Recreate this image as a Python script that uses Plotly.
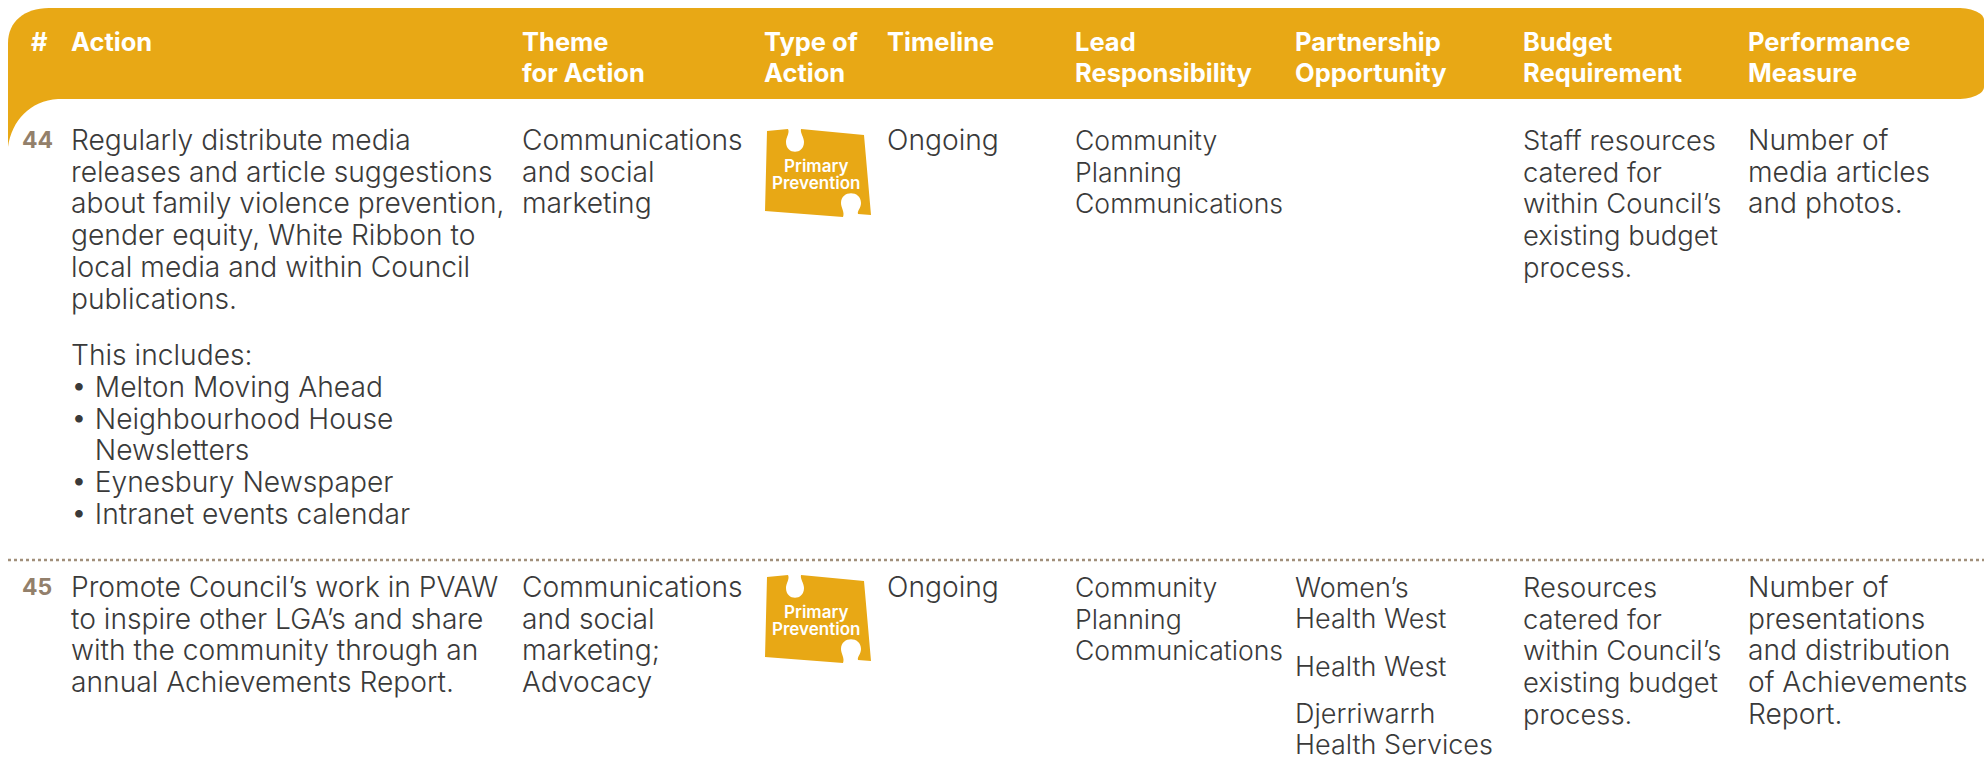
import plotly.graph_objects as go

# ---- content ----
HEADERS = [["#"], ["Action"], ["Theme", "for Action"], ["Type of", "Action"], ["Timeline"],
           ["Lead", "Responsibility"], ["Partnership", "Opportunity"], ["Budget", "Requirement"],
           ["Performance", "Measure"]]
ROW_IDS = ["44", "45"]
ACTION_44 = ["Regularly distribute media", "releases and article suggestions",
             "about family violence prevention,", "gender equity, White Ribbon to",
             "local media and within Council", "publications."]
ACTION_44_INTRO = ["This includes:"]
ACTION_44_BULLETS = ["• Melton Moving Ahead", "• Neighbourhood House", "   Newsletters",
                     "• Eynesbury Newspaper", "• Intranet events calendar"]
THEME_44 = ["Communications", "and social", "marketing"]
TIMELINE = ["Ongoing"]
LEAD = ["Community", "Planning", "Communications"]
BUDGET_44 = ["Staff resources", "catered for", "within Council’s", "existing budget", "process."]
MEASURE_44 = ["Number of", "media articles", "and photos."]
ACTION_45 = ["Promote Council’s work in PVAW", "to inspire other LGA’s and share",
             "with the community through an", "annual Achievements Report."]
THEME_45 = ["Communications", "and social", "marketing;", "Advocacy"]
PARTNER_45A = ["Women’s", "Health West"]
PARTNER_45B = ["Health West"]
PARTNER_45C = ["Djerriwarrh", "Health Services"]
BUDGET_45 = ["Resources", "catered for", "within Council’s", "existing budget", "process."]
MEASURE_45 = ["Number of", "presentations", "and distribution", "of Achievements", "Report."]
BADGE = ["Primary", "Prevention"]

# ---- style / layout ----
GOLD = "#E8A815"
TAUPE = "#93806B"
INK = "#3A3A3A"
BODY_FONT = "Inter"
BODY_SIZE = 28.2
HEAD_SIZE = 25.5
NUM_SIZE = 23
PITCH = 31.7
SIZE_LEAD = 26.6
SIZE_PARTNER = 27
SIZE_BUDGET = 27.4
COL_X = dict(num=20, action=69, theme=520, type=762, time=885, lead=1073, partner=1293, budget=1521, measure=1746)

ann = []


def lines(x, y, rows, color=INK, size=BODY_SIZE, bold=False, anchor="left", pitch=PITCH, font=BODY_FONT, weight=None):
    for i, t in enumerate(rows):
        w = weight if weight else (700 if bold else 300)
        ann.append(dict(x=x, y=y + i * pitch, xref="x", yref="y", text=t,
                        showarrow=False, xanchor=anchor, yanchor="middle",
                        font=dict(family=font, size=size, color=color, weight=w)))


# header text
for key, h in zip(["num", "action", "theme", "type", "time", "lead", "partner", "budget", "measure"], HEADERS):
    x = COL_X[key] + (9 if key == "num" else 0)
    lines(x, 41, h, color="white", size=HEAD_SIZE, bold=True)

# row 44
Y1 = 140
lines(COL_X["num"], Y1, [ROW_IDS[0]], color=TAUPE, bold=True, size=NUM_SIZE)
lines(COL_X["action"], Y1, ACTION_44)
lines(COL_X["action"], 355, ACTION_44_INTRO)
lines(COL_X["action"], 387, ACTION_44_BULLETS)
lines(COL_X["theme"], Y1, THEME_44)
lines(COL_X["time"], Y1, TIMELINE)
lines(COL_X["lead"], Y1, LEAD, size=SIZE_LEAD)
lines(COL_X["budget"], Y1, BUDGET_44, size=SIZE_BUDGET)
lines(COL_X["measure"], Y1, MEASURE_44)

# row 45
Y2 = 587
lines(COL_X["num"], Y2, [ROW_IDS[1]], color=TAUPE, bold=True, size=NUM_SIZE)
lines(COL_X["action"], Y2, ACTION_45)
lines(COL_X["theme"], Y2, THEME_45)
lines(COL_X["time"], Y2, TIMELINE)
lines(COL_X["lead"], Y2, LEAD, size=SIZE_LEAD)
lines(COL_X["partner"], Y2, PARTNER_45A, size=SIZE_PARTNER)
lines(COL_X["partner"], 666, PARTNER_45B, size=SIZE_PARTNER)
lines(COL_X["partner"], 713, PARTNER_45C, size=SIZE_PARTNER)
lines(COL_X["budget"], Y2, BUDGET_45, size=SIZE_BUDGET)
lines(COL_X["measure"], Y2, MEASURE_45)


def puzzle(dy):
    def p(x, y):
        return f"{x},{y + dy}"
    return ("M" + p(767, 131) + " L" + p(788, 129)
            + " C" + p(790, 133) + " " + p(786, 137) + " " + p(786, 142)
            + " C" + p(786, 155) + " " + p(804, 155) + " " + p(804, 142)
            + " C" + p(804, 137) + " " + p(800, 133) + " " + p(801, 129)
            + " L" + p(864, 135) + " L" + p(871, 215) + " L" + p(858, 214)
            + " C" + p(857, 211) + " " + p(861, 208) + " " + p(861, 203)
            + " C" + p(861, 190) + " " + p(841, 190) + " " + p(841, 203)
            + " C" + p(841, 208) + " " + p(845, 212) + " " + p(843, 217)
            + " L" + p(765, 211) + " Z")


ROW_SHIFT = 446
shapes = [
    dict(type="path", xref="x", yref="y", fillcolor=GOLD, line_width=0,
         path="M8,99 L8,43 C8,22 24,8 49,8 L1957,8 C1974,8 1984,14 1984,20 L1984,87 C1984,93 1974,99 1957,99 Z"),
    dict(type="path", xref="x", yref="y", fillcolor=GOLD, line_width=0,
         path="M8,99 L58,99 C30,101 12,120 8,147 Z"),
    dict(type="line", xref="x", yref="y", x0=8, x1=1984, y0=560, y1=560,
         line=dict(color="#A18F7A", width=2.4, dash="dot")),
    dict(type="path", xref="x", yref="y", fillcolor=GOLD, line_width=0, path=puzzle(0)),
    dict(type="path", xref="x", yref="y", fillcolor=GOLD, line_width=0, path=puzzle(ROW_SHIFT)),
]
for dy in (0, ROW_SHIFT):
    lines(816, 166 + dy, BADGE, color="white", size=17, weight=600, anchor="center", pitch=17)

fig = go.Figure()
fig.update_layout(
    width=1984, height=768, margin=dict(l=0, r=0, t=0, b=0),
    paper_bgcolor="white", plot_bgcolor="white", showlegend=False,
    xaxis=dict(range=[0, 1984], visible=False, fixedrange=True),
    yaxis=dict(range=[768, 0], visible=False, fixedrange=True),
    shapes=shapes, annotations=ann,
)
fig.write_html("out.html", config={"displayModeBar": False},
               post_script="document.body.style.margin='0';document.body.style.overflow='hidden';")
